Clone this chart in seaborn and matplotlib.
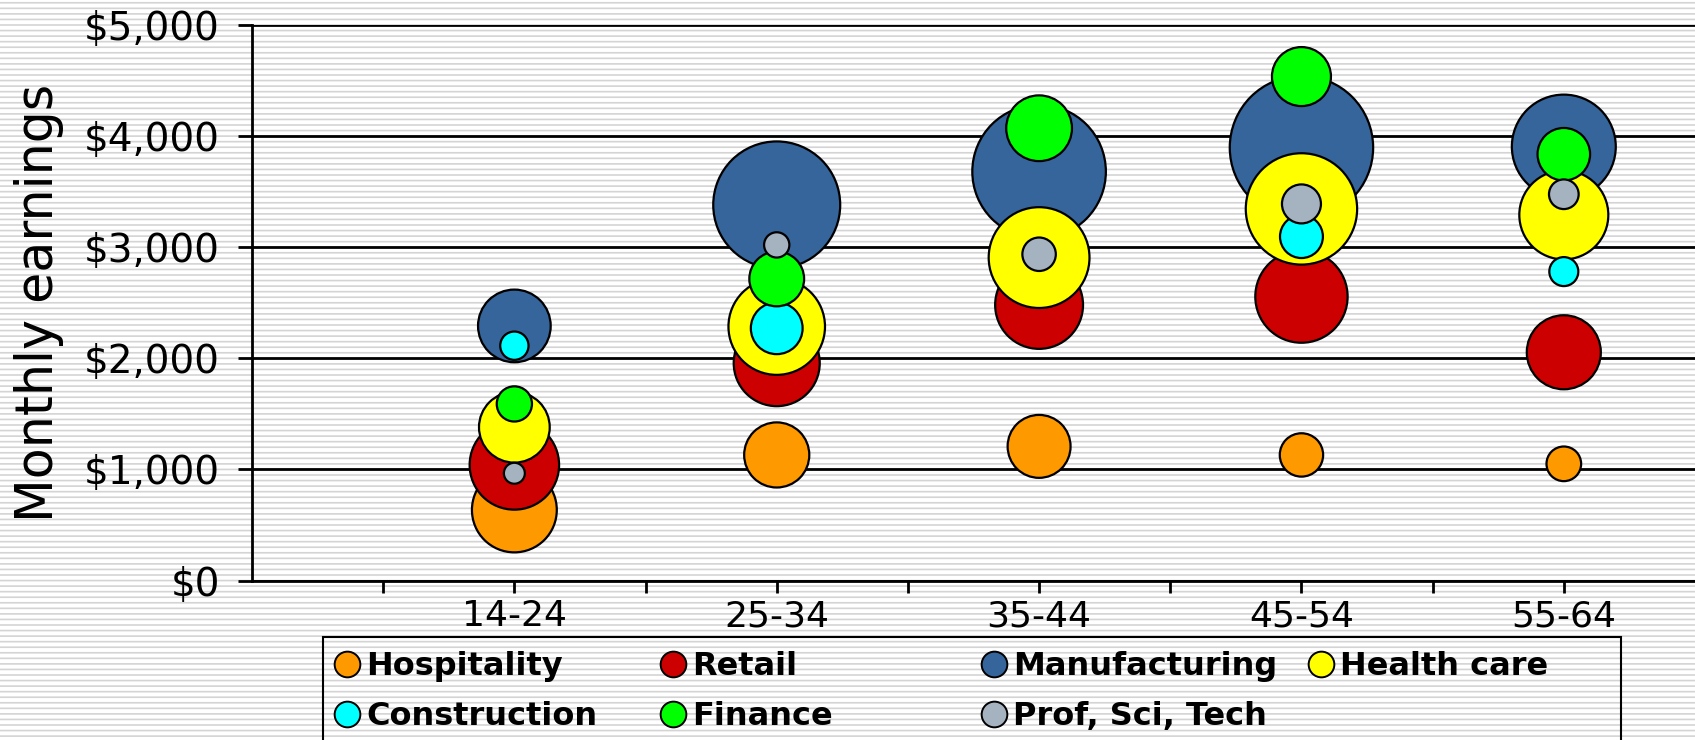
import numpy as np
import pandas as pd
import matplotlib
matplotlib.use("Agg")
import matplotlib.pyplot as plt
from matplotlib.lines import Line2D
from matplotlib.patches import Rectangle
from matplotlib.ticker import FuncFormatter, MultipleLocator
import seaborn as sns

# Age groups and industries
age_groups = ["14-24", "25-34", "35-44", "45-54", "55-64"]
industries = ["Hospitality", "Retail", "Manufacturing", "Health care",
              "Construction", "Finance", "Prof, Sci, Tech"]

# Monthly earnings ($) per industry, one value per age group
hospitality_earn = [635, 1130, 1207, 1130, 1050]
retail_earn = [1040, 1956, 2480, 2555, 2054]
manufacturing_earn = [2291, 3380, 3680, 3896, 3905]
health_earn = [1379, 2285, 2906, 3344, 3290]
construction_earn = [2113, 2270, np.nan, 3095, 2780]
finance_earn = [1589, 2714, 4070, 4535, 3836]
prof_earn = [965, 3020, 2936, 3389, 3476]

# Bubble size (relative employment) per industry, one value per age group
hospitality_size = [18.0, 10.6, 9.9, 4.7, 3.0]
retail_size = [20.0, 18.5, 19.3, 21.3, 13.7]
manufacturing_size = [13.2, 40.3, 44.6, 51.4, 27.0]
health_size = [12.5, 23.3, 25.4, 31.0, 19.8]
construction_size = [2.0, 6.7, np.nan, 4.6, 2.1]
finance_size = [3.1, 7.5, 10.8, 8.7, 6.9]
prof_size = [1.1, 1.6, 2.8, 3.8, 2.2]

colors = ["#FF9900", "#CC0000", "#35659B", "#FFFF00",
          "#00FFFF", "#00FF00", "#A5B2C0"]

earnings = [hospitality_earn, retail_earn, manufacturing_earn, health_earn,
            construction_earn, finance_earn, prof_earn]
sizes = [hospitality_size, retail_size, manufacturing_size, health_size,
         construction_size, finance_size, prof_size]

# long table, industries in drawing order
rows = []
for ind, earn, sz in zip(industries, earnings, sizes):
    for i, age in enumerate(age_groups):
        rows.append({"industry": ind, "age": age, "pos": i + 1,
                     "earnings": earn[i], "size": sz[i]})
df = pd.DataFrame(rows).dropna()

sns.set_style("white")
plt.rcParams["font.family"] = ["DejaVu Sans"]
plt.rcParams["text.color"] = "black"
plt.rcParams["xtick.color"] = "black"
plt.rcParams["ytick.color"] = "black"
plt.rcParams["axes.labelcolor"] = "black"
plt.rcParams["hatch.linewidth"] = 1.2

fig = plt.figure(figsize=(16.95, 7.4), dpi=100)

# striped background (3 lines per hatch unit -> ~5.5 px apart)
bg = Rectangle((0, 0), 1, 1, transform=fig.transFigure, facecolor="white",
               edgecolor="#D4D4D4", linewidth=0, hatch="---", zorder=-10)
fig.patches.append(bg)

ax = fig.add_axes([252 / 1695, 159.5 / 740, 1 - 252 / 1695, (580.5 - 24.9) / 740])
ax.patch.set_alpha(0)

# size value -> marker area in pt^2 (linear)
sns.scatterplot(data=df, x="pos", y="earnings", hue="industry",
                hue_order=industries, palette=colors,
                size="size", sizes=(0, 60 * 207.36), size_norm=(0, 60),
                edgecolor="black", linewidth=1.6, alpha=1,
                legend=False, ax=ax, zorder=3)

ax.set_xlim(0, 5.5)
ax.set_ylim(0, 5000)
ax.set_xticks(range(1, 6))
ax.set_xticklabels(age_groups)
ax.set_xticks([0.5, 1.5, 2.5, 3.5, 4.5], minor=True)
ax.yaxis.set_major_locator(MultipleLocator(1000))
ax.yaxis.set_major_formatter(FuncFormatter(lambda v, p: "${:,.0f}".format(v)))

ax.grid(axis="y", color="black", linewidth=2.0, zorder=1)
ax.set_axisbelow(True)
for s in ["top", "right"]:
    ax.spines[s].set_visible(False)
for s in ["left", "bottom"]:
    ax.spines[s].set_color("black")
    ax.spines[s].set_linewidth(2.0)

ax.tick_params(axis="y", which="major", length=10, width=2.0, color="black",
               labelsize=28, pad=13, left=True)
ax.tick_params(axis="x", which="both", length=8.5, width=2.0, color="black",
               labelsize=26, pad=5, bottom=True, direction="out")
ax.set_xlabel("")
ax.set_ylabel("Monthly earnings", fontsize=36.5, labelpad=14)

# legend: four columns, two rows, inside one frame
frame = Rectangle((323 / 1695, -0.05), (1621 - 323) / 1695, 0.05 + (740 - 636.7) / 740,
                  transform=fig.transFigure, facecolor="none", edgecolor="black",
                  linewidth=1.5, zorder=5)
fig.patches.append(frame)

handles = [Line2D([], [], marker="o", linestyle="none", markersize=18.5,
                  markerfacecolor=c, markeredgecolor="black", markeredgewidth=1.4)
           for c in colors]
columns = [[0, 4], [1, 5], [2, 6], [3]]
col_left = [335, 661, 982, 1309]
for idx, left in zip(columns, col_left):
    fig.legend([handles[k] for k in idx], [industries[k] for k in idx],
               loc="upper left", bbox_to_anchor=(left / 1695, (740 - 651) / 740),
               frameon=False, borderpad=0, borderaxespad=0,
               handlelength=0.75, handletextpad=0.22, labelspacing=0.6,
               prop={"weight": "bold", "size": 23})

fig.savefig("out.png", dpi=100)
